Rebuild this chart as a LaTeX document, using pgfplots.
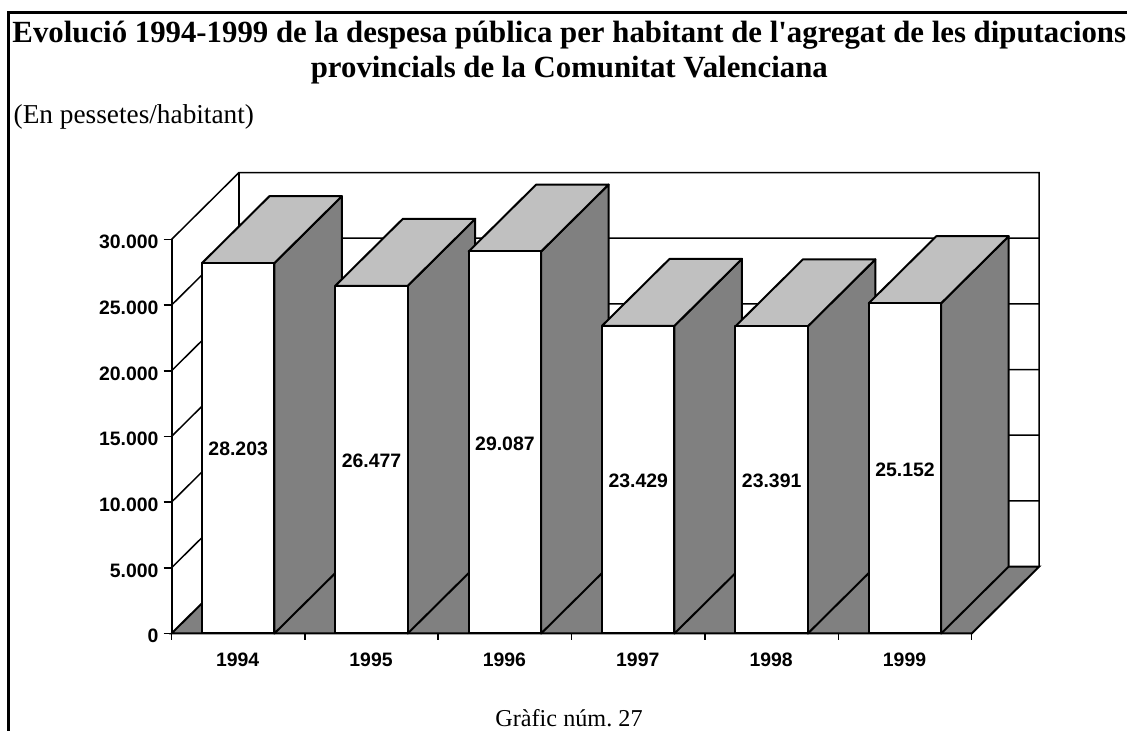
\documentclass[border=0pt]{standalone}
\usepackage{fontspec}
\setmainfont{Liberation Serif}
\newfontfamily\tnr{Liberation Serif}
\newfontfamily\arial{Liberation Sans}
\usepackage{pgfplots}
\pgfplotsset{compat=1.18}
\definecolor{topgray}{HTML}{C0C0C0}
\definecolor{sidegray}{HTML}{808080}
\newcommand\threedbar[3]{%
  \pgfmathsetmacro\xL{#1-0.2714}%
  \pgfmathsetmacro\xR{#1+0.2714}%
  \pgfmathsetmacro\xLb{\xL+0.506}%
  \pgfmathsetmacro\xRb{\xR+0.506}%
  \edef\yB{\the\numexpr#2+5095\relax}%
  \edef\yH{\the\numexpr#2/2\relax}%
  \edef\temp{%
    \noexpand\addplot[draw=black,line width=2bp,line join=round,fill=sidegray] coordinates {(\xR,0) (\xRb,5095) (\xRb,\yB) (\xR,#2)} -- cycle;
    \noexpand\addplot[draw=black,line width=2bp,line join=round,fill=topgray] coordinates {(\xL,#2) (\xR,#2) (\xRb,\yB) (\xLb,\yB)} -- cycle;
    \noexpand\addplot[draw=black,line width=2bp,line join=round,fill=white] coordinates {(\xL,0) (\xR,0) (\xR,#2) (\xL,#2)} -- cycle;
    \noexpand\node[yshift=-1bp,font=\noexpand\arial\noexpand\bfseries\noexpand\fontsize{19.5}{21}\noexpand\selectfont] at (axis cs:#1,\yH) {#3};
  }\temp}
\begin{document}
\begin{tikzpicture}[x=1bp,y=1bp]
\path[use as bounding box] (0,0) rectangle (1127,731);
\draw[line width=3.6bp] (8.5,0) -- (8.5,718.5) -- (1127,718.5);
\node[anchor=base,font=\tnr\bfseries\fontsize{30.92}{33}\selectfont,inner sep=0] at (569.3,688) {Evolució 1994-1999 de la despesa pública per habitant de l'agregat de les diputacions};
\node[anchor=base,font=\tnr\bfseries\fontsize{30.92}{33}\selectfont,inner sep=0] at (569.3,653.5) {provincials de la Comunitat Valenciana};
\node[anchor=base west,font=\tnr\fontsize{27.4}{30}\selectfont,inner sep=0] at (13.5,607) {(En pessetes/habitant)};
\node[anchor=base,font=\tnr\fontsize{24.3}{28}\selectfont,inner sep=0] at (569,4) {\frenchspacing Gràfic núm. 27};
\begin{axis}[
  at={(171.5bp,97.5bp)},anchor=south west,
  scale only axis,width=800.2bp,height=394bp,
  xmin=0,xmax=6,ymin=0,ymax=30000,
  clip=false,
  axis x line=bottom,axis y line=left,
  axis line style={-,line width=2bp},
  xtick={0.5,1.5,2.5,3.5,4.5,5.5},
  xticklabels={1994,1995,1996,1997,1998,1999},
  minor xtick={0,1,2,3,4,5,6},
  major x tick style={draw=none},
  minor x tick style={line width=1.5bp,black},
  minor tick length=6.5bp,
  ytick={0,5000,10000,15000,20000,25000,30000},
  y tick style={line width=1.5bp,black},
  major tick length=8bp,
  tick align=outside,
  scaled y ticks=false,
  /pgf/number format/assume math mode=true,
  /pgf/number format/1000 sep={.},
  ticklabel style={font=\arial\bfseries\fontsize{19.5}{21}\selectfont},
  xticklabel style={yshift=-8bp,xshift=-0.5bp},
  yticklabel style={xshift=-1.5bp,yshift=-2.5bp},
]
% walls: gridlines on left and back wall
\addplot[black,line width=1.5bp] coordinates {(0,5000) (0.506,10095) (6.506,10095)};
\addplot[black,line width=1.5bp] coordinates {(0,10000) (0.506,15095) (6.506,15095)};
\addplot[black,line width=1.5bp] coordinates {(0,15000) (0.506,20095) (6.506,20095)};
\addplot[black,line width=1.5bp] coordinates {(0,20000) (0.506,25095) (6.506,25095)};
\addplot[black,line width=1.5bp] coordinates {(0,25000) (0.506,30095) (6.506,30095)};
\addplot[black,line width=1.5bp] coordinates {(0,30000) (0.506,35095) (6.506,35095) (6.506,5095)};
\addplot[black,line width=1.5bp] coordinates {(0.506,35095) (0.506,5095)};
% floor
\addplot[draw=black,line width=2bp,fill=sidegray] coordinates {(0,0) (6,0) (6.506,5095) (0.506,5095)} -- cycle;
\threedbar{0.5}{28203}{28.203}
\threedbar{1.5}{26477}{26.477}
\threedbar{2.5}{29087}{29.087}
\threedbar{3.5}{23429}{23.429}
\threedbar{4.5}{23391}{23.391}
\threedbar{5.5}{25152}{25.152}
\end{axis}
\end{tikzpicture}
\end{document}
